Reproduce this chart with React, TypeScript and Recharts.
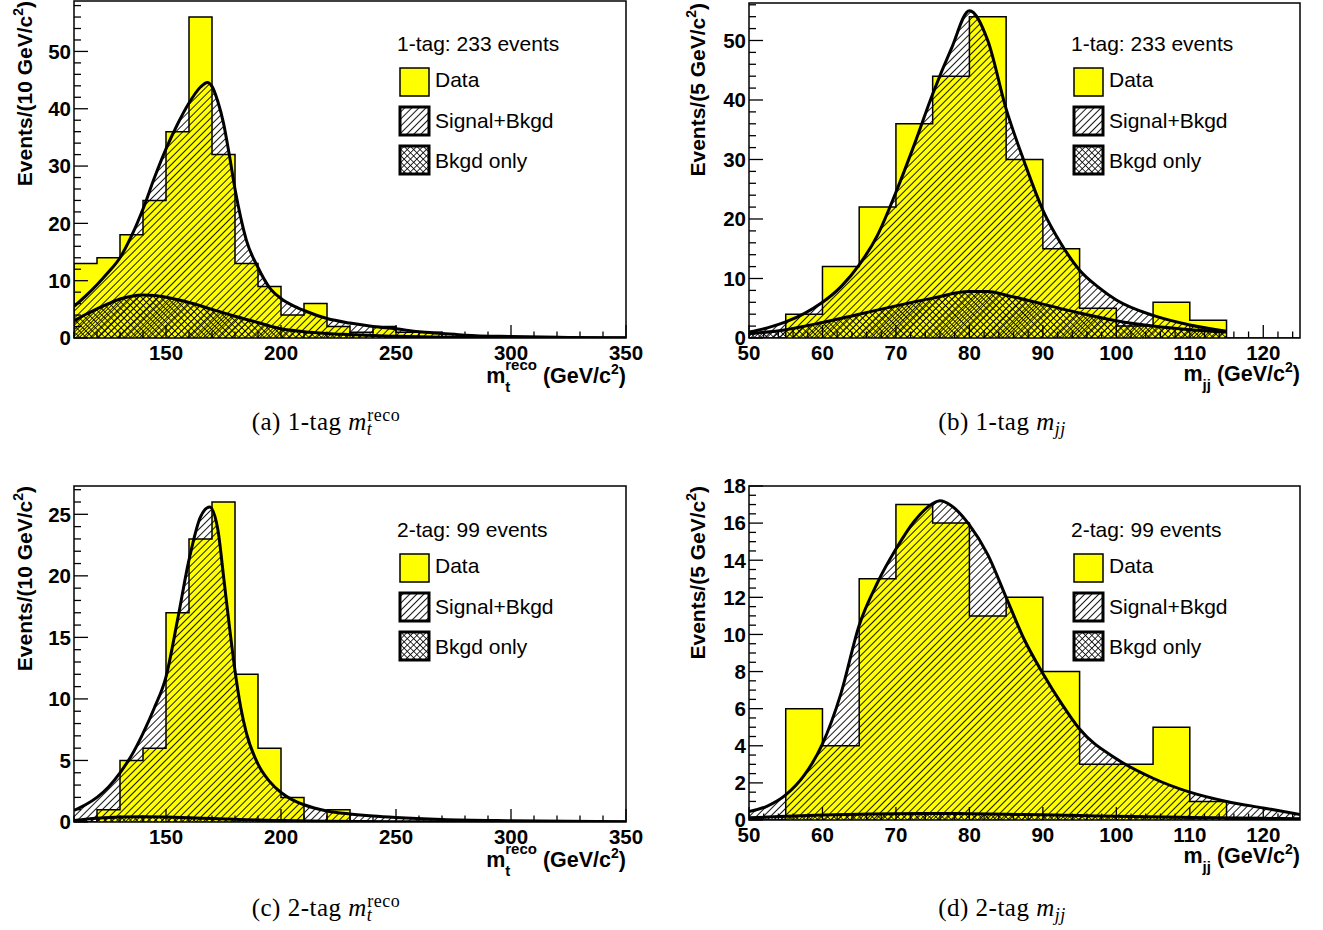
import React from 'react';
import { ComposedChart, Area, XAxis, YAxis, ReferenceArea } from 'recharts';

const FONT = '"Liberation Sans", Arial, Helvetica, sans-serif';
const SERIF = '"Liberation Serif", "Times New Roman", serif';

// ---------- bin edges ----------
const mtEdges = [110, 120, 130, 140, 150, 160, 170, 180, 190, 200, 210, 220, 230, 240, 250, 260, 270, 280, 290, 300, 310, 320, 330, 340, 350];
const mjjEdges = [50, 55, 60, 65, 70, 75, 80, 85, 90, 95, 100, 105, 110, 115, 120, 125];

// ---------- data histograms (events per bin) ----------
const data1TagMt = [13, 14, 18, 24, 36, 56, 32, 13, 9, 4, 6, 2, 1, 2, 1, 1, 0, 0, 0, 0, 0, 0, 0, 0];
const data1TagMjj = [0, 4, 12, 22, 36, 44, 54, 30, 15, 5, 2, 6, 3, 0, 0];
const data2TagMt = [0, 1, 5, 6, 17, 23, 26, 12, 6, 2, 0, 1, 0, 0, 0, 0, 0, 0, 0, 0, 0, 0, 0, 0];
const data2TagMjj = [0, 6, 4, 13, 17, 16, 11, 12, 8, 3, 3, 5, 1, 0, 0];

// ---------- fit curves ----------
const sigX1Mt = [110, 115, 120, 125, 130, 135, 140, 145, 150, 155, 160, 165, 168, 170, 172.5, 175, 177.5, 180, 182.5, 185, 190, 195, 200, 205, 210, 220, 230, 240, 250, 260, 270, 280, 300, 325, 350];
const sigY1Mt = [5.5, 7.3, 9.3, 11.5, 14.0, 17.8, 22.5, 28.0, 33.0, 37.3, 41.0, 43.8, 44.6, 43.9, 41.3, 37.5, 32.0, 26.0, 21.0, 17.0, 12.3, 8.8, 6.9, 5.7, 4.8, 3.4, 2.6, 2.0, 1.6, 1.1, 0.8, 0.5, 0.25, 0.1, 0.05];
const bkgX1Mt = [110, 115, 120, 125, 130, 135, 140, 145, 150, 160, 170, 180, 190, 200, 210, 220, 230, 240, 250, 270, 300, 350];
const bkgY1Mt = [3.0, 4.1, 5.1, 6.0, 6.8, 7.3, 7.5, 7.4, 7.1, 6.2, 5.0, 3.8, 2.7, 1.6, 1.1, 0.8, 0.6, 0.42, 0.3, 0.15, 0.06, 0.02];

const sigX1Mjj = [50, 52.5, 55, 57.5, 60, 62.5, 65, 67.5, 70, 72.5, 75, 77.5, 80, 82.5, 85, 87.5, 90, 92.5, 95, 97.5, 100, 105, 110, 115];
const sigY1Mjj = [1.0, 1.7, 2.7, 4.1, 6.0, 8.6, 12.3, 17.3, 24.5, 32.5, 41.0, 48.5, 55.0, 50.0, 38.5, 29.5, 21.5, 15.8, 11.4, 8.6, 6.4, 3.8, 2.2, 1.15];
const bkgX1Mjj = [50, 55, 60, 65, 70, 75, 80, 82.5, 85, 90, 95, 100, 105, 110, 115];
const bkgY1Mjj = [0.7, 1.4, 2.6, 4.0, 5.4, 6.7, 7.8, 7.8, 7.2, 5.7, 4.2, 2.9, 2.0, 1.4, 1.0];

const sigX2Mt = [110, 115, 120, 125, 130, 135, 140, 145, 150, 155, 160, 165, 169, 172.5, 175, 177.5, 180, 182.5, 185, 190, 195, 200, 205, 210, 220, 230, 240, 250, 270, 300, 350];
const sigY2Mt = [0.95, 1.4, 2.0, 2.85, 4.0, 5.4, 7.2, 9.3, 11.8, 16.4, 21.3, 24.8, 25.6, 23.8, 20.0, 16.0, 12.3, 9.3, 7.2, 4.7, 3.3, 2.4, 1.8, 1.4, 0.9, 0.65, 0.48, 0.36, 0.2, 0.1, 0.03];
const bkgX2Mt = [110, 120, 130, 140, 150, 160, 170, 180, 190, 200, 220, 250, 300, 350];
const bkgY2Mt = [0.12, 0.3, 0.4, 0.42, 0.4, 0.35, 0.28, 0.22, 0.16, 0.12, 0.07, 0.03, 0.01, 0.005];

const sigX2Mjj = [50, 52.5, 55, 57.5, 60, 62.5, 65, 67.5, 70, 72.5, 75, 76, 77.5, 80, 82.5, 85, 87.5, 90, 92.5, 95, 100, 105, 110, 115, 120, 125];
const sigY2Mjj = [0.45, 0.75, 1.35, 2.4, 4.1, 6.8, 10.5, 12.8, 14.6, 16.1, 17.05, 17.2, 16.95, 15.9, 14.3, 12.0, 9.7, 7.9, 6.3, 4.9, 3.3, 2.25, 1.5, 1.0, 0.65, 0.3];
const bkgX2Mjj = [50, 55, 60, 65, 70, 75, 80, 85, 90, 95, 100, 110, 120, 125];
const bkgY2Mjj = [0.12, 0.2, 0.27, 0.31, 0.34, 0.35, 0.34, 0.31, 0.28, 0.24, 0.2, 0.14, 0.09, 0.07];

// ---------- tick labels ----------
const mtMajorTicks = [150, 200, 250, 300, 350];
const mjjMajorTicks = [50, 60, 70, 80, 90, 100, 110, 120];
const y1MtMajor = [0, 10, 20, 30, 40, 50];
const y1MjjMajor = [0, 10, 20, 30, 40, 50];
const y2MtMajor = [0, 5, 10, 15, 20, 25];
const y2MjjMajor = [0, 2, 4, 6, 8, 10, 12, 14, 16, 18];

const legendLabels = ['Data', 'Signal+Bkgd', 'Bkgd only'];

const range = (a: number, b: number, s: number) => {
  const out: number[] = [];
  for (let v = a; v <= b + 1e-9; v += s) out.push(Math.round(v * 1000) / 1000);
  return out;
};
const isMajor = (v: number, majors: number[]) => majors.some((m) => Math.abs(m - v) < 1e-6);

const buildHist = (edges: number[], counts: number[]) => {
  const pts = [{ x: edges[0], y: 0 }];
  counts.forEach((c, i) => pts.push({ x: edges[i], y: c }));
  pts.push({ x: edges[edges.length - 1], y: 0 });
  return pts;
};
const zipPts = (xs: number[], ys: number[]) => xs.map((x, i) => ({ x, y: ys[i] }));

const makeYTick = (majors: number[]) => (props: any) => {
  const { x, y, payload } = props;
  const v = payload.value;
  const major = isMajor(v, majors);
  return (
    <g>
      <line x1={x} x2={x + (major ? 14 : 7)} y1={y} y2={y} stroke="#000" strokeWidth={1.3} />
      {major && (
        <text x={x - 3} y={y + 7.3} textAnchor="end" fontSize={20.5} fontWeight="bold" fontFamily={FONT} fill="#000">
          {v}
        </text>
      )}
    </g>
  );
};
const makeXTick = (majors: number[]) => (props: any) => {
  const { x, y, payload } = props;
  const v = payload.value;
  const major = isMajor(v, majors);
  return (
    <g>
      <line x1={x} x2={x} y1={y} y2={y - (major ? 13 : 6.5)} stroke="#000" strokeWidth={1.3} />
      {major && (
        <text x={x} y={y + 21.5} textAnchor="middle" fontSize={20.5} fontWeight="bold" fontFamily={FONT} fill="#000">
          {v}
        </text>
      )}
    </g>
  );
};

type PanelSpec = {
  id: string;
  left: number;
  top: number;
  width: number;
  height: number;
  marginTop: number;
  marginRight: number;
  xDomain: [number, number];
  xTicks: number[];
  xMajors: number[];
  yMax: number;
  yTicks: number[];
  yMajors: number[];
  edges: number[];
  counts: number[];
  sigX: number[];
  sigY: number[];
  bkgX: number[];
  bkgY: number[];
  yTitleBin: string;
  yTitleX: number;
  xTitle: 'mt' | 'mjj';
  legendTitle: string;
  legendPageX: number;
  legendPageY: number;
};

function Panel({ p }: { p: PanelSpec }) {
  const hist = buildHist(p.edges, p.counts);
  const sig = zipPts(p.sigX, p.sigY);
  const bkg = zipPts(p.bkgX, p.bkgY);
  const plotTop = p.marginTop;
  const plotBottom = p.height - 62;
  const plotRight = p.width - p.marginRight;
  const lx = p.legendPageX - p.left;
  const ly = p.legendPageY - p.top;
  const boxTops = [68, 107, 146];
  const textBase = [87, 128, 168];
  const hatch = `hatch-${p.id}`;
  const cross = `cross-${p.id}`;
  return (
    <div style={{ position: 'absolute', left: p.left, top: p.top }}>
      <ComposedChart
        width={p.width}
        height={p.height}
        margin={{ top: p.marginTop, right: p.marginRight, bottom: 0, left: 0 }}
      >
        <defs>
          <pattern id={hatch} width={5} height={5} patternUnits="userSpaceOnUse" patternTransform="rotate(45)">
            <line x1={2.5} y1={0} x2={2.5} y2={5} stroke="#000" strokeWidth={0.9} />
          </pattern>
          <pattern id={cross} width={4.5} height={4.5} patternUnits="userSpaceOnUse" patternTransform="rotate(45)">
            <line x1={2.25} y1={0} x2={2.25} y2={4.5} stroke="#000" strokeWidth={0.8} />
            <line x1={0} y1={2.25} x2={4.5} y2={2.25} stroke="#000" strokeWidth={0.8} />
          </pattern>
        </defs>
        <Area
          data={hist}
          dataKey="y"
          type="stepAfter"
          fill="#ffff00"
          fillOpacity={1}
          stroke="#000"
          strokeWidth={1.5}
          dot={false}
          activeDot={false}
          isAnimationActive={false}
        />
        <Area
          data={sig}
          dataKey="y"
          type="monotone"
          fill={`url(#${hatch})`}
          fillOpacity={1}
          stroke="#000"
          strokeWidth={3}
          dot={false}
          activeDot={false}
          isAnimationActive={false}
        />
        <Area
          data={bkg}
          dataKey="y"
          type="monotone"
          fill={`url(#${cross})`}
          fillOpacity={1}
          stroke="#000"
          strokeWidth={3}
          dot={false}
          activeDot={false}
          isAnimationActive={false}
        />
        <XAxis
          type="number"
          dataKey="x"
          domain={p.xDomain}
          allowDataOverflow
          ticks={p.xTicks}
          interval={0}
          tickSize={0}
          tickMargin={0}
          axisLine={false}
          tickLine={false}
          tick={makeXTick(p.xMajors)}
          height={62}
        />
        <YAxis
          type="number"
          domain={[0, p.yMax]}
          allowDataOverflow
          ticks={p.yTicks}
          interval={0}
          tickSize={0}
          tickMargin={0}
          axisLine={false}
          tickLine={false}
          tick={makeYTick(p.yMajors)}
          width={74}
        />
        <ReferenceArea
          x1={p.xDomain[0]}
          x2={p.xDomain[1]}
          y1={0}
          y2={p.yMax}
          fill="none"
          fillOpacity={0}
          stroke="#000"
          strokeWidth={1.5}
          ifOverflow="visible"
        />
        {/* y title */}
        <text
          x={p.yTitleX}
          y={plotTop}
          transform={`rotate(-90 ${p.yTitleX} ${plotTop})`}
          textAnchor="end"
          fontSize={21}
          fontWeight="bold"
          fontFamily={FONT}
          fill="#000"
        >
          {`Events/(${p.yTitleBin} GeV/c`}
          <tspan fontSize={14} dy={-9}>2</tspan>
          <tspan dy={9}>)</tspan>
        </text>
        {/* x title */}
        {p.xTitle === 'mt' ? (
          <text x={plotRight} y={plotBottom + 45} textAnchor="end" fontSize={21.5} fontWeight="bold" fontFamily={FONT} fill="#000">
            m
            <tspan fontSize={15} dy={9}>t</tspan>
            <tspan fontSize={15} dx={-5} dy={-22}>reco</tspan>
            <tspan dy={13}>{' (GeV/c'}</tspan>
            <tspan fontSize={14} dy={-9}>2</tspan>
            <tspan dy={9}>)</tspan>
          </text>
        ) : (
          <text x={plotRight} y={plotBottom + 43} textAnchor="end" fontSize={21.5} fontWeight="bold" fontFamily={FONT} fill="#000">
            m
            <tspan fontSize={15} dy={9}>jj</tspan>
            <tspan dy={-9}>{' (GeV/c'}</tspan>
            <tspan fontSize={14} dy={-9}>2</tspan>
            <tspan dy={9}>)</tspan>
          </text>
        )}
        {/* legend */}
        <g fontFamily={FONT} fontSize={21} fill="#000">
          <text x={lx - 3} y={ly + 51}>{p.legendTitle}</text>
          <rect x={lx} y={ly + boxTops[0]} width={29} height={28} fill="#ffff00" stroke="#000" strokeWidth={1.5} />
          <rect x={lx} y={ly + boxTops[1]} width={29} height={28} fill="#fff" stroke="none" />
          <rect x={lx} y={ly + boxTops[1]} width={29} height={28} fill={`url(#${hatch})`} stroke="#000" strokeWidth={3} />
          <rect x={lx} y={ly + boxTops[2]} width={29} height={28} fill="#fff" stroke="none" />
          <rect x={lx} y={ly + boxTops[2]} width={29} height={28} fill={`url(#${cross})`} stroke="#000" strokeWidth={3} />
          {legendLabels.map((t, i) => (
            <text key={t} x={lx + 35} y={ly + textBase[i]}>
              {t}
            </text>
          ))}
        </g>
      </ComposedChart>
    </div>
  );
}

const panels: PanelSpec[] = [
  {
    id: 'a', left: 0, top: 0, width: 660, height: 400, marginTop: 1, marginRight: 34,
    xDomain: [110, 350], xTicks: range(110, 350, 10), xMajors: mtMajorTicks,
    yMax: 58.8, yTicks: range(0, 58, 2), yMajors: y1MtMajor,
    edges: mtEdges, counts: data1TagMt, sigX: sigX1Mt, sigY: sigY1Mt, bkgX: bkgX1Mt, bkgY: bkgY1Mt,
    yTitleBin: '10', yTitleX: 32, xTitle: 'mt', legendTitle: '1-tag: 233 events', legendPageX: 400, legendPageY: 0,
  },
  {
    id: 'b', left: 675, top: 0, width: 648, height: 400, marginTop: 3, marginRight: 23,
    xDomain: [50, 125], xTicks: range(50, 124, 2), xMajors: mjjMajorTicks,
    yMax: 56.3, yTicks: range(0, 56, 2), yMajors: y1MjjMajor,
    edges: mjjEdges, counts: data1TagMjj, sigX: sigX1Mjj, sigY: sigY1Mjj, bkgX: bkgX1Mjj, bkgY: bkgY1Mjj,
    yTitleBin: '5', yTitleX: 30, xTitle: 'mjj', legendTitle: '1-tag: 233 events', legendPageX: 1074, legendPageY: 0,
  },
  {
    id: 'c', left: 0, top: 470, width: 660, height: 414, marginTop: 16, marginRight: 34,
    xDomain: [110, 350], xTicks: range(110, 350, 10), xMajors: mtMajorTicks,
    yMax: 27.3, yTicks: range(0, 27, 1), yMajors: y2MtMajor,
    edges: mtEdges, counts: data2TagMt, sigX: sigX2Mt, sigY: sigY2Mt, bkgX: bkgX2Mt, bkgY: bkgY2Mt,
    yTitleBin: '10', yTitleX: 32, xTitle: 'mt', legendTitle: '2-tag: 99 events', legendPageX: 400, legendPageY: 486,
  },
  {
    id: 'd', left: 675, top: 470, width: 648, height: 412, marginTop: 16, marginRight: 23,
    xDomain: [50, 125], xTicks: range(50, 124, 2), xMajors: mjjMajorTicks,
    yMax: 18, yTicks: range(0, 18, 0.5), yMajors: y2MjjMajor,
    edges: mjjEdges, counts: data2TagMjj, sigX: sigX2Mjj, sigY: sigY2Mjj, bkgX: bkgX2Mjj, bkgY: bkgY2Mjj,
    yTitleBin: '5', yTitleX: 30, xTitle: 'mjj', legendTitle: '2-tag: 99 events', legendPageX: 1074, legendPageY: 486,
  },
];

const captions = [
  { x: 326, y: 430, label: '(a) 1-tag ', kind: 'mt' },
  { x: 1002, y: 430, label: '(b) 1-tag ', kind: 'mjj' },
  { x: 326, y: 916, label: '(c) 2-tag ', kind: 'mt' },
  { x: 1002, y: 916, label: '(d) 2-tag ', kind: 'mjj' },
];

export default function App() {
  return (
    <div style={{ position: 'absolute', left: 0, top: 0, width: 1323, height: 930, background: '#fff', overflow: 'hidden' }}>
      {panels.map((p) => (
        <Panel key={p.id} p={p} />
      ))}
      <svg width={1323} height={930} style={{ position: 'absolute', left: 0, top: 0, pointerEvents: 'none' }}>
        {captions.map((c) => (
          <text key={c.label} x={c.x} y={c.y} textAnchor="middle" fontFamily={SERIF} fontSize={25} letterSpacing={0.5} fill="#000">
            {c.label}
            <tspan fontStyle="italic">m</tspan>
            {c.kind === 'mt' ? (
              <>
                <tspan fontStyle="italic" fontSize={18} dy={5}>t</tspan>
                <tspan fontSize={18} dx={-5} dy={-14}>reco</tspan>
              </>
            ) : (
              <tspan fontStyle="italic" fontSize={18} dy={5}>jj</tspan>
            )}
          </text>
        ))}
      </svg>
    </div>
  );
}
